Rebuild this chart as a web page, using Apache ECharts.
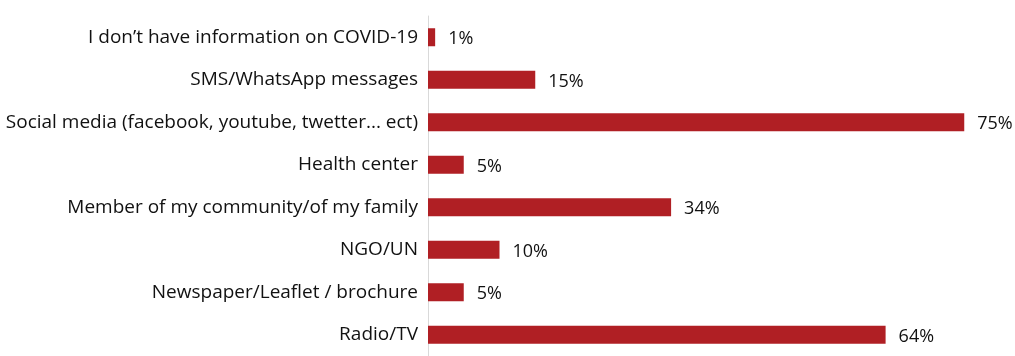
<!DOCTYPE html>
<html>
<head>
<meta charset="utf-8">
<script src="https://cdn.jsdelivr.net/npm/echarts@6/dist/echarts.min.js"></script>
<style>
  html, body { margin: 0; padding: 0; background: #fff; }
  #chart { width: 1015px; height: 356px; }
</style>
</head>
<body>
<div id="chart"></div>
<script>
// Sources of COVID-19 information (share of respondents, %)
const categories = [
  'I don\u2019t have information on COVID-19',
  'SMS/WhatsApp messages',
  'Social media (facebook, youtube, twetter... ect)',
  'Health center',
  'Member of my community/of my family',
  'NGO/UN',
  'Newspaper/Leaflet / brochure',
  'Radio/TV'
];
const values = [1, 15, 75, 5, 34, 10, 5, 64];

const chart = echarts.init(document.getElementById('chart'));
chart.setOption({
  animation: false,
  textStyle: { fontFamily: 'Open Sans' },
  grid: { left: 428, right: 15, top: 16, bottom: -8, containLabel: false },
  xAxis: {
    type: 'value',
    min: 0,
    max: 80,
    show: false
  },
  yAxis: {
    type: 'category',
    data: categories,
    inverse: true,
    axisLine: { show: true, lineStyle: { color: '#d9d9d9', width: 1 } },
    axisTick: { show: false },
    axisLabel: { color: '#111', fontSize: 19, margin: 10, fontFamily: 'Open Sans' }
  },
  series: [{
    type: 'bar',
    data: values,
    barWidth: 18,
    itemStyle: { color: '#b01f24' },
    label: {
      show: true,
      position: 'right',
      distance: 13,
      color: '#111',
      fontSize: 18,
      fontFamily: 'Open Sans',
      offset: [0, 2],
      formatter: p => p.value + '%'
    }
  }]
});
</script>
</body>
</html>
